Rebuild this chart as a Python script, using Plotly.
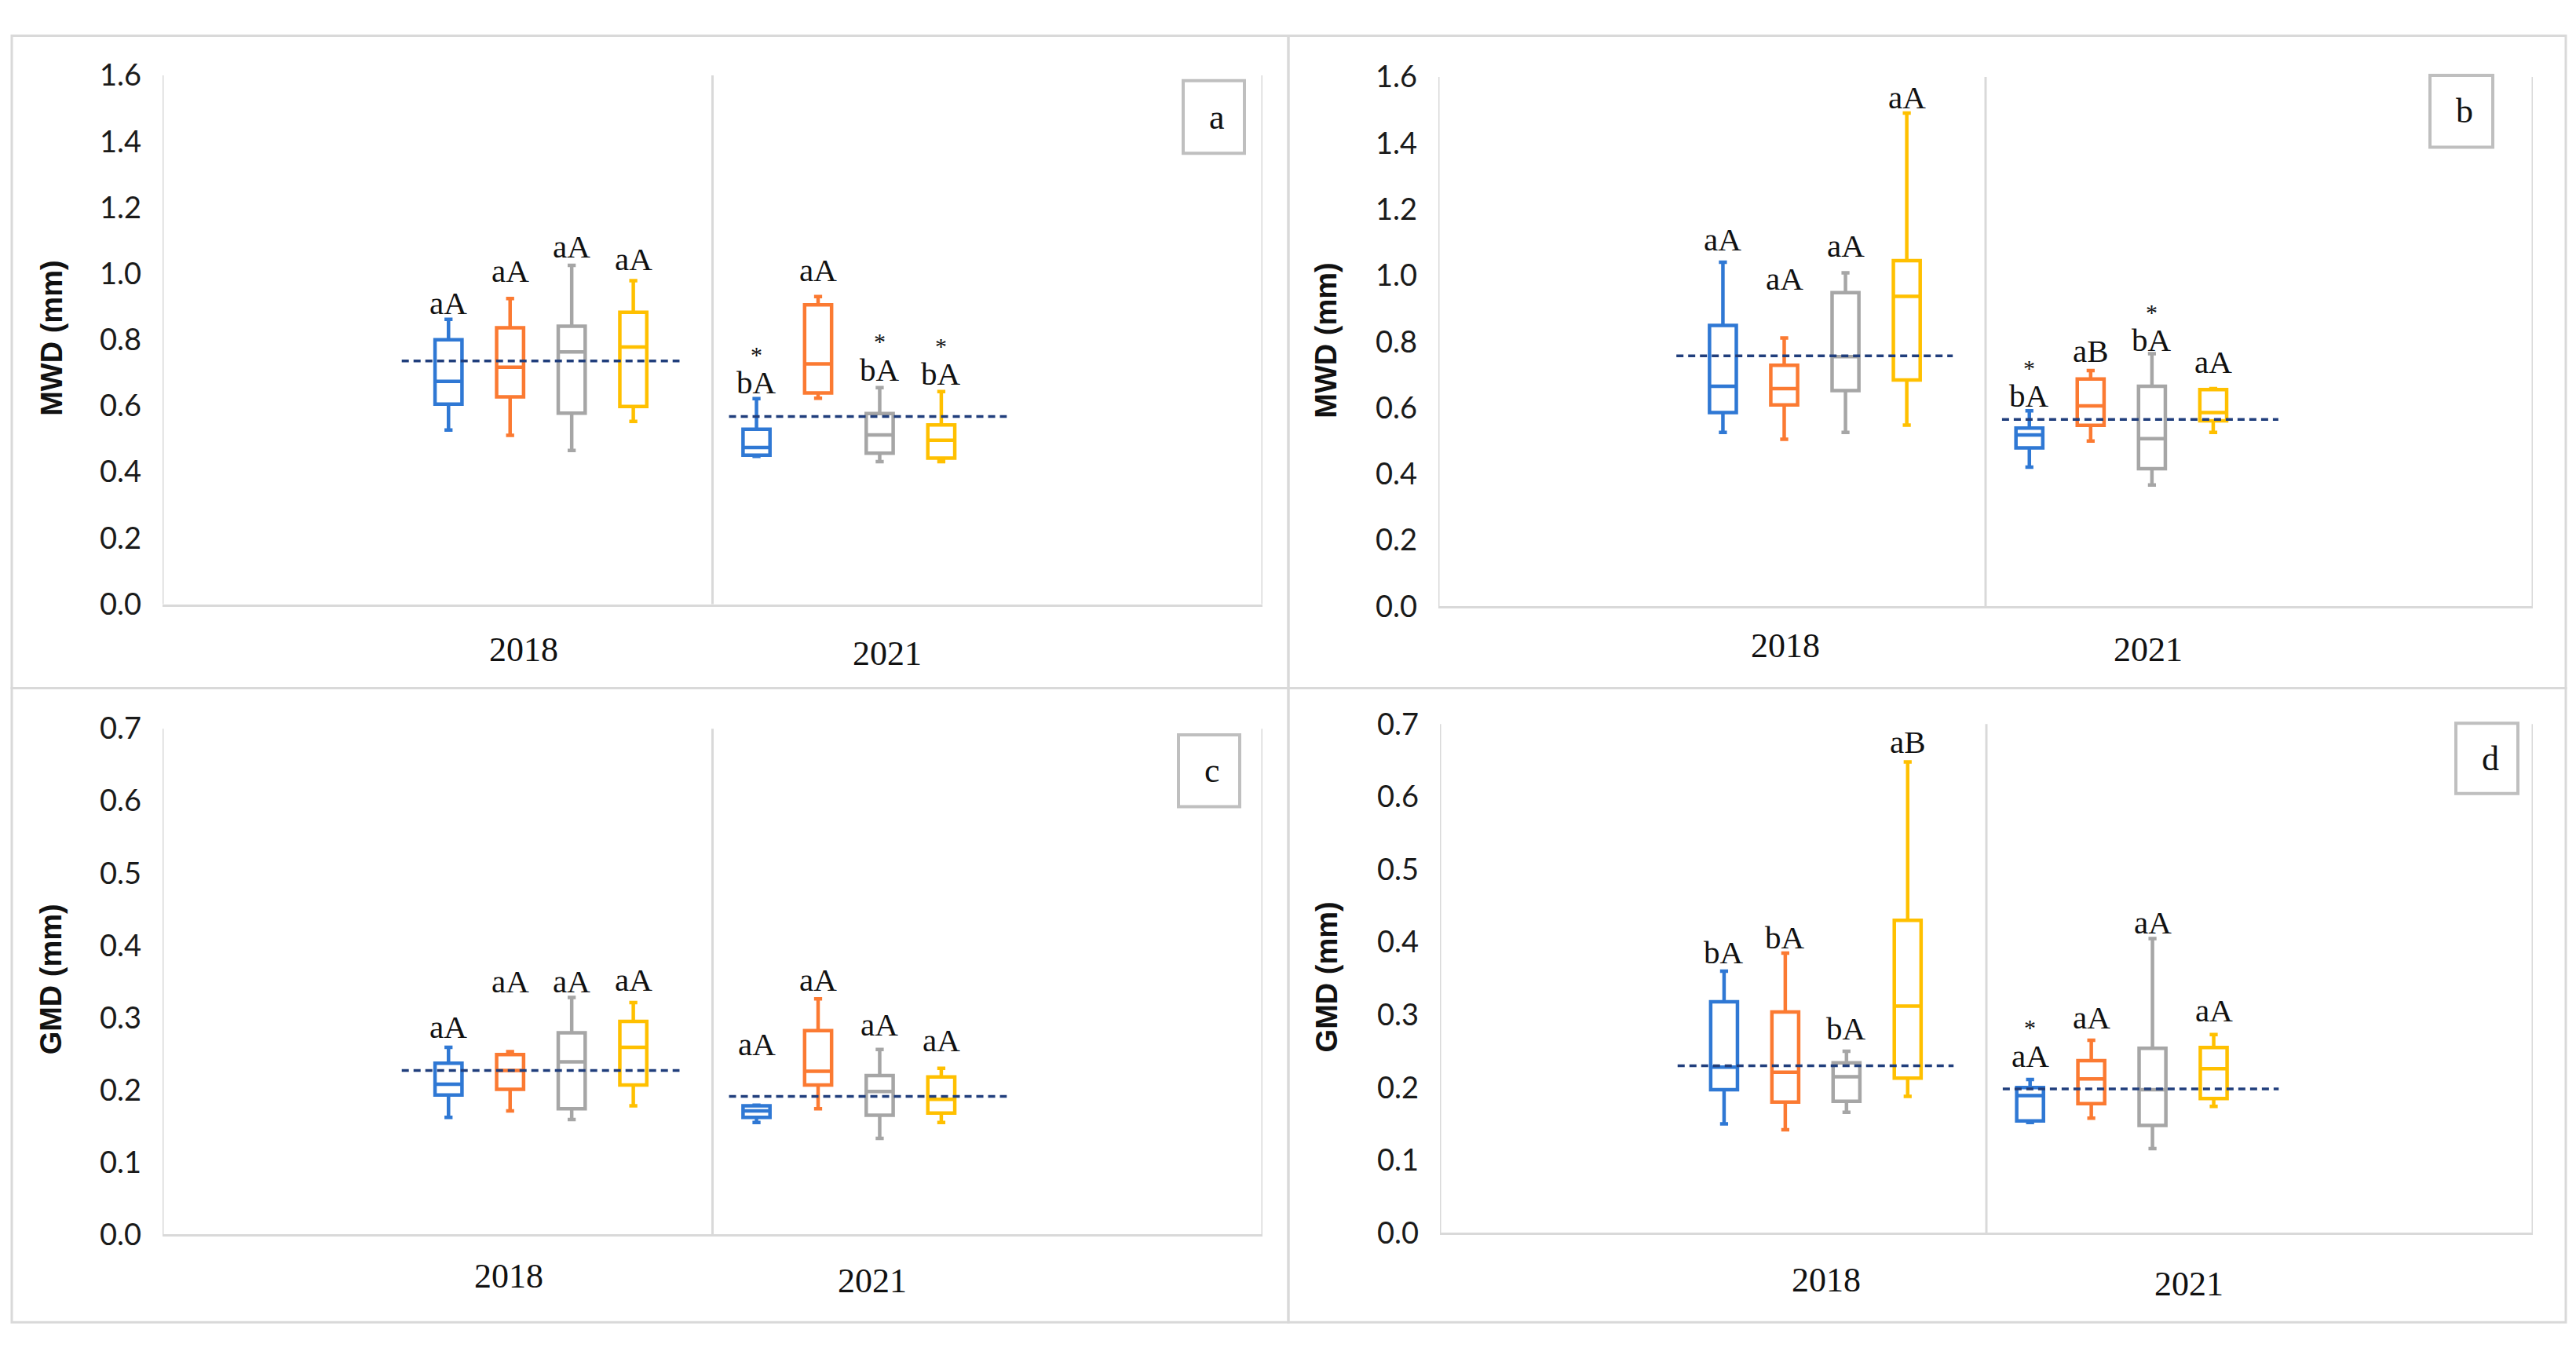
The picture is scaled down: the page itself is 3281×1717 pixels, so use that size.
import plotly.graph_objects as go

# ---------------- DATA ----------------
years = ["2018", "2021"]
series_colors = ["#2F78D4", "#FB7A32", "#A6A6A6", "#FFC000"]  # blue, orange, gray, yellow
# order of 8 values: [blue18, orange18, gray18, yellow18, blue21, orange21, gray21, yellow21]

# Panel a (MWD)
a_lower = [0.527, 0.511, 0.465, 0.553, 0.447, 0.623, 0.431, 0.431]
a_q1 = [0.605, 0.627, 0.578, 0.598, 0.451, 0.639, 0.457, 0.442]
a_med = [0.674, 0.717, 0.763, 0.778, 0.474, 0.727, 0.512, 0.496]
a_q3 = [0.800, 0.836, 0.841, 0.883, 0.529, 0.906, 0.577, 0.542]
a_upper = [0.862, 0.925, 1.025, 0.979, 0.622, 0.931, 0.655, 0.643]
a_mean = [0.736, 0.568]
a_letters = ["aA", "aA", "aA", "aA", "bA", "aA", "bA", "bA"]
a_star = [0, 0, 0, 0, 1, 0, 1, 1]
a_letter_y = [0.912, 1.009, 1.081, 1.044, 0.671, 1.012, 0.710, 0.697]

# Panel b (MWD)
b_lower = [0.526, 0.505, 0.526, 0.548, 0.421, 0.500, 0.367, 0.526]
b_q1 = [0.586, 0.609, 0.652, 0.684, 0.479, 0.547, 0.416, 0.561]
b_med = [0.665, 0.658, 0.755, 0.937, 0.518, 0.606, 0.507, 0.586]
b_q3 = [0.849, 0.729, 0.948, 1.045, 0.539, 0.687, 0.665, 0.655]
b_upper = [1.040, 0.811, 1.008, 1.491, 0.591, 0.713, 0.764, 0.658]
b_mean = [0.757, 0.565]
b_letters = ["aA", "aA", "aA", "aA", "bA", "aB", "bA", "aA"]
b_star = [0, 0, 0, 0, 1, 0, 1, 0]
b_letter_y = [1.109, 0.991, 1.090, 1.539, 0.636, 0.771, 0.805, 0.740]

# Panel c (GMD)
c_lower = [0.162, 0.171, 0.159, 0.178, 0.155, 0.174, 0.133, 0.155]
c_q1 = [0.193, 0.201, 0.174, 0.207, 0.162, 0.207, 0.165, 0.168]
c_med = [0.208, 0.227, 0.239, 0.259, 0.171, 0.226, 0.198, 0.187]
c_q3 = [0.237, 0.249, 0.279, 0.295, 0.178, 0.282, 0.220, 0.218]
c_upper = [0.259, 0.253, 0.328, 0.321, 0.179, 0.326, 0.256, 0.230]
c_mean = [0.227, 0.191]
c_letters = ["aA"] * 8
c_star = [0, 0, 0, 0, 0, 0, 0, 0]
c_letter_y = [0.2875, 0.350, 0.350, 0.353, 0.2632, 0.353, 0.2904, 0.269]

# Panel d (GMD)
d_lower = [0.150, 0.142, 0.166, 0.188, 0.152, 0.158, 0.116, 0.174]
d_q1 = [0.197, 0.180, 0.181, 0.213, 0.154, 0.178, 0.148, 0.185]
d_med = [0.228, 0.221, 0.215, 0.312, 0.189, 0.212, 0.197, 0.226]
d_q3 = [0.318, 0.304, 0.234, 0.430, 0.200, 0.237, 0.254, 0.255]
d_upper = [0.360, 0.385, 0.250, 0.648, 0.211, 0.265, 0.405, 0.273]
d_mean = [0.230, 0.198]
d_letters = ["bA", "bA", "bA", "aB", "aA", "aA", "aA", "aA"]
d_star = [0, 0, 0, 0, 1, 0, 0, 0]
d_letter_y = [0.3865, 0.4066, 0.2813, 0.6753, 0.2439, 0.2962, 0.4268, 0.306]

y_titles = ["MWD (mm)", "MWD (mm)", "GMD (mm)", "GMD (mm)"]
panel_tags = ["a", "b", "c", "d"]

# ---------------- LAYOUT CONSTANTS ----------------
W, H = 3281, 1717
group_start = [0.52, 1.08]
slot = 0.112
box_w = 0.049
mean_span = [[0.435, 0.94], [1.03, 1.535]]
GRID = "#D9D9D9"
MEAN_COLOR = "#203E7C"


def fx(px):
    return px / W


def fy(py):
    return 1 - py / H


panels = [
    dict(data=(a_lower, a_q1, a_med, a_q3, a_upper, a_mean, a_letters, a_star, a_letter_y),
         plot=(207, 1608, 73, 765), yr=1.6, dt=0.2, frame=(15, 1641, 21, 875),
         tagbox=(1507, 1585, 80, 175), cat_x=[0.657, 1.318], cat_y=[825, 830], title_xy=(66, 417)),
    dict(data=(b_lower, b_q1, b_med, b_q3, b_upper, b_mean, b_letters, b_star, b_letter_y),
         plot=(1832, 3226, 75, 768), yr=1.6, dt=0.2, frame=(1641, 3268, 21, 875),
         tagbox=(3095, 3175, 73, 167), cat_x=[0.634, 1.297], cat_y=[819, 825], title_xy=(1689, 420)),
    dict(data=(c_lower, c_q1, c_med, c_q3, c_upper, c_mean, c_letters, c_star, c_letter_y),
         plot=(207, 1608, 928, 1590), yr=0.7, dt=0.1, frame=(15, 1641, 875, 1705),
         tagbox=(1501, 1579, 936, 1030), cat_x=[0.63, 1.29], cat_y=[1645, 1651], title_xy=(65, 1256)),
    dict(data=(d_lower, d_q1, d_med, d_q3, d_upper, d_mean, d_letters, d_star, d_letter_y),
         plot=(1834, 3226, 922, 1588), yr=0.7, dt=0.1, frame=(1641, 3268, 875, 1705),
         tagbox=(3128, 3207, 921, 1013), cat_x=[0.707, 1.371], cat_y=[1650, 1655], title_xy=(1690, 1253)),
]

fig = go.Figure()
shapes = []
annotations = []
layout_axes = {}

for i, p in enumerate(panels):
    n = "" if i == 0 else str(i + 1)
    xa, ya = "x" + n, "y" + n
    lower, q1, med, q3, upper, mean, letters, star, letter_y = p["data"]
    x0, x1, y0, y1 = p["plot"]

    layout_axes["xaxis" + n] = dict(
        domain=[fx(x0), fx(x1)], range=[0, 2], anchor=ya,
        showticklabels=False, showgrid=False, zeroline=False, ticks="",
        showline=True, linecolor=GRID, linewidth=3, fixedrange=True)
    layout_axes["yaxis" + n] = dict(
        domain=[fy(y1), fy(y0)], range=[0, p["yr"]], anchor=xa, dtick=p["dt"],
        tickformat=".1f", showgrid=False, zeroline=False, ticks="", showline=False,
        ticklabelstandoff=26, tickfont=dict(family="Lato", size=38, color="#1a1a1a"),
        fixedrange=True)

    # category boundary lines
    for xv in [0, 1, 2]:
        shapes.append(dict(type="line", xref=xa, yref=ya + " domain", x0=xv, x1=xv, y0=0, y1=1,
                           line=dict(color=GRID, width=3), layer="below"))

    for s in range(4):
        idx = [s, 4 + s]
        xs = [group_start[g] + s * slot for g in range(2)]
        fig.add_trace(go.Box(
            x=xs, q1=[q1[k] for k in idx], median=[med[k] for k in idx], q3=[q3[k] for k in idx],
            lowerfence=[lower[k] for k in idx], upperfence=[upper[k] for k in idx],
            width=box_w, whiskerwidth=0.3, boxpoints=False,
            line=dict(color=series_colors[s], width=4.5), fillcolor="rgba(255,255,255,0)",
            xaxis=xa, yaxis=ya, showlegend=False, hoverinfo="skip"))
        for g in range(2):
            k = g * 4 + s
            annotations.append(dict(xref=xa, yref=ya, x=xs[g], y=letter_y[k], text=letters[k],
                                    showarrow=False, yanchor="middle",
                                    font=dict(family="Liberation Serif", size=41, color="#111111")))
            if star[k]:
                annotations.append(dict(xref=xa, yref=ya, x=xs[g], y=letter_y[k], text="*",
                                        showarrow=False, yanchor="middle", yshift=36,
                                        font=dict(family="Liberation Serif", size=30, color="#111111")))

    for g in range(2):
        fig.add_trace(go.Scatter(
            x=mean_span[g], y=[mean[g], mean[g]], mode="lines",
            line=dict(color=MEAN_COLOR, width=3.5, dash="9px,6px"),
            xaxis=xa, yaxis=ya, showlegend=False, hoverinfo="skip"))
        annotations.append(dict(xref=xa, yref="paper", x=p["cat_x"][g], y=fy(p["cat_y"][g]),
                                text=years[g], showarrow=False, yanchor="middle",
                                font=dict(family="Liberation Serif", size=44, color="#111111")))

    # y-axis title
    tx, ty = p["title_xy"]
    annotations.append(dict(xref="paper", yref="paper", x=fx(tx), y=fy(ty), text="<b>" + y_titles[i] + "</b>",
                            textangle=-90, showarrow=False, xanchor="center", yanchor="middle",
                            font=dict(family="Liberation Sans", size=38, color="#111111")))

    # panel frame
    fx0, fx1, fy0, fy1 = p["frame"]
    shapes.append(dict(type="rect", xref="paper", yref="paper", x0=fx(fx0), x1=fx(fx1), y0=fy(fy1), y1=fy(fy0),
                       line=dict(color=GRID, width=3), fillcolor="rgba(0,0,0,0)", layer="below"))

    # panel tag box
    bx0, bx1, by0, by1 = p["tagbox"]
    shapes.append(dict(type="rect", xref="paper", yref="paper", x0=fx(bx0), x1=fx(bx1), y0=fy(by1), y1=fy(by0),
                       line=dict(color="#BFBFBF", width=4), fillcolor="white"))
    annotations.append(dict(xref="paper", yref="paper", x=fx((bx0 + bx1) / 2 + 4), y=fy((by0 + by1) / 2),
                            text=panel_tags[i], showarrow=False, xanchor="center", yanchor="middle",
                            font=dict(family="Liberation Serif", size=44, color="#111111")))

fig.update_layout(
    width=W, height=H, margin=dict(l=0, r=0, t=0, b=0),
    paper_bgcolor="white", plot_bgcolor="white",
    shapes=shapes, annotations=annotations, boxmode="overlay",
    **layout_axes)

fig.write_html("out.html", config={"displayModeBar": False},
               post_script="document.body.style.margin='0';document.body.style.overflow='hidden';")
